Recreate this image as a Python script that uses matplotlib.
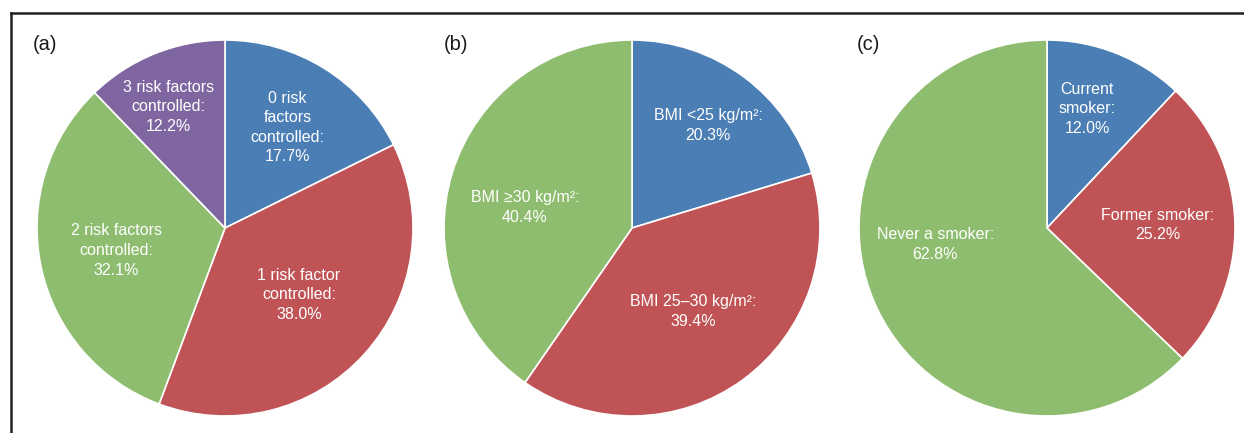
import numpy as np
import matplotlib
matplotlib.use("Agg")
import matplotlib.pyplot as plt
from matplotlib.lines import Line2D

plt.rcParams['font.family'] = ['Liberation Sans', 'DejaVu Sans']

# Panel (a): number of risk factors controlled
risk_labels = ["0 risk\nfactors\ncontrolled:", "1 risk factor\ncontrolled:",
               "2 risk factors\ncontrolled:", "3 risk factors\ncontrolled:"]
risk_values = [17.7, 38.0, 32.1, 12.2]

# Panel (b): body-mass index
bmi_labels = ["BMI <25 kg/m\u00b2:", "BMI 25\u201330 kg/m\u00b2:", "BMI \u226530 kg/m\u00b2:"]
bmi_values = [20.3, 39.4, 40.4]

# Panel (c): smoking status
smoke_labels = ["Current\nsmoker:", "Former smoker:", "Never a smoker:"]
smoke_values = [12.0, 25.2, 62.8]

BLUE, RED, GREEN, PURPLE = "#4a7eb4", "#c05356", "#8fbd6f", "#7f66a0"

# label placement per wedge: (radial fraction, angular nudge in degrees)
panels = [
    ("(a)", risk_labels, risk_values, [BLUE, RED, GREEN, PURPLE],
     [(0.63, 0), (0.53, 0), (0.59, 0), (0.71, 3)]),
    ("(b)", bmi_labels, bmi_values, [BLUE, RED, GREEN],
     [(0.68, 0), (0.55, 0), (0.58, 6.5)]),
    ("(c)", smoke_labels, smoke_values, [BLUE, RED, GREEN],
     [(0.67, 3), (0.59, 0), (0.60, -14.5)]),
]

W, H = 12.44, 4.33
fig = plt.figure(figsize=(W, H), dpi=100)

# pie centres / radius in pixels
centres = [(225, 228), (632, 228), (1047, 228)]
R = 188
tag_pos = [(45, 45), (456, 45), (868, 45)]

for (tag, labels, values, colors, lab_layout), (cx, cy), (tx, ty) in zip(panels, centres, tag_pos):
    ax = fig.add_axes([(cx - R) / 1244, (433 - cy - R) / 433, 2 * R / 1244, 2 * R / 433])
    wedges, _ = ax.pie(values, colors=colors, startangle=90, counterclock=False,
                       radius=1.0,
                       wedgeprops=dict(edgecolor="white", linewidth=1.2))
    ax.set_xlim(-1, 1)
    ax.set_ylim(-1, 1)
    ax.set_aspect("auto")
    ax.axis("off")
    for w, lab, val, (r, dang) in zip(wedges, labels, values, lab_layout):
        ang = np.deg2rad((w.theta1 + w.theta2) / 2 + dang)
        ax.text(r * np.cos(ang), r * np.sin(ang), f"{lab}\n{val:.1f}%",
                ha="center", va="center", color="white", fontsize=11.5,
                linespacing=1.38)
    fig.text(tx / 1244, 1 - ty / 433, tag, ha="center", va="center",
             fontsize=14.5, color="#1a1a1a")

# frame lines (top and left)
fig.add_artist(Line2D([11 / 1244, 1.0], [1 - 13 / 433, 1 - 13 / 433],
                      transform=fig.transFigure, color="#231f20", linewidth=1.8))
fig.add_artist(Line2D([11 / 1244, 11 / 1244], [0, 1 - 13 / 433],
                      transform=fig.transFigure, color="#231f20", linewidth=1.8))

fig.savefig("out.png", dpi=100)
